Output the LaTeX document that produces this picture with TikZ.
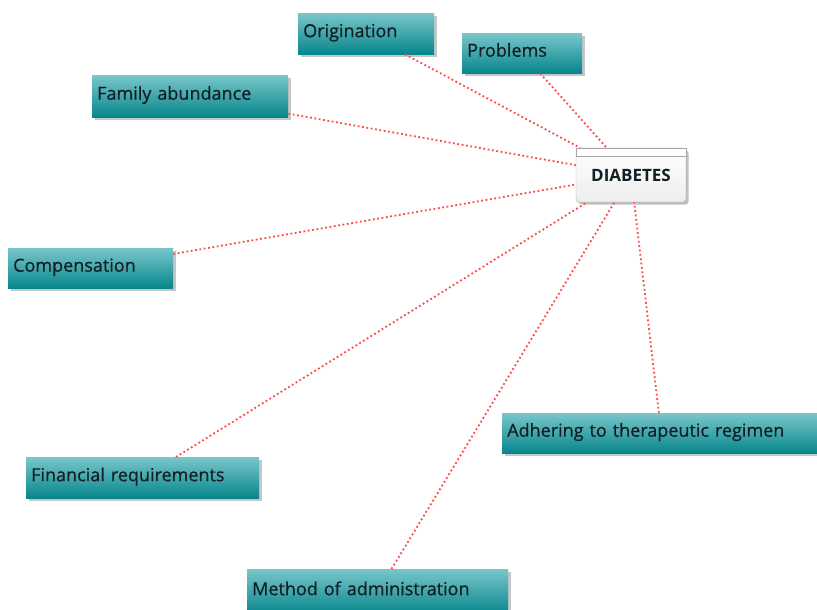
\documentclass[tikz,border=0pt]{standalone}
\usepackage{fontspec}
\setmainfont{Open Sans}
\newfontfamily\topicfont{Open Sans}[FakeBold=0.5]
\usetikzlibrary{shadows}
\definecolor{tealtop}{RGB}{120,198,202}
\definecolor{tealbot}{RGB}{6,134,140}
\definecolor{linkred}{RGB}{255,72,72}
\definecolor{inktext}{RGB}{18,30,36}

\begin{document}
\begin{tikzpicture}[x=1pt,y=-1pt,
  topic/.style={anchor=north west, top color=tealtop, bottom color=tealbot,
    inner xsep=5pt, align=left, text=inktext, text height=12pt, text depth=5pt,
    font=\topicfont\fontsize{18}{21}\selectfont,
    drop shadow={shadow xshift=2.5pt, shadow yshift=-2.5pt, opacity=0.45}},
  hub/.style={top color=white, bottom color=gray!14, draw=gray!70,
    rounded corners=3pt, minimum width=110pt, minimum height=54pt,
    text=inktext, font=\fontsize{17}{20}\selectfont\bfseries,
    drop shadow={shadow xshift=2.5pt, shadow yshift=-2.5pt, opacity=0.5}},
  link/.style={linkred, line width=1.8pt, dash pattern=on 1.8pt off 2.6pt}]
\useasboundingbox (0,0) rectangle (817,610);

\node[hub] (diab) at (631,175) {\raisebox{-3pt}{DIABETES}\hspace{8pt}};
\draw[gray!70, fill=white] (diab.north west) rectangle ([yshift=-8pt]diab.north east);

\node[topic, text width=126pt, minimum height=41pt] (orig) at (298,13) {Origination};
\node[topic, text width=110pt, minimum height=40pt] (prob) at (462,33) {Problems};
\node[topic, text width=186pt, minimum height=42pt] (fam) at (92,75) {Family abundance};
\node[topic, text width=155pt, minimum height=40pt] (comp) at (8,248) {Compensation};
\node[topic, text width=223pt, minimum height=41pt] (fin) at (26,457) {Financial requirements};
\node[topic, text width=251pt, minimum height=45pt] (meth) at (247,569) {Method of administration};
\node[topic, text width=308pt, minimum height=40pt] (adh) at (502,413) {Adhering to therapeutic regimen};

\foreach \t in {orig,prob,fam,comp,fin,meth,adh}
  \draw[link] (\t) -- (diab);
\end{tikzpicture}
\end{document}
